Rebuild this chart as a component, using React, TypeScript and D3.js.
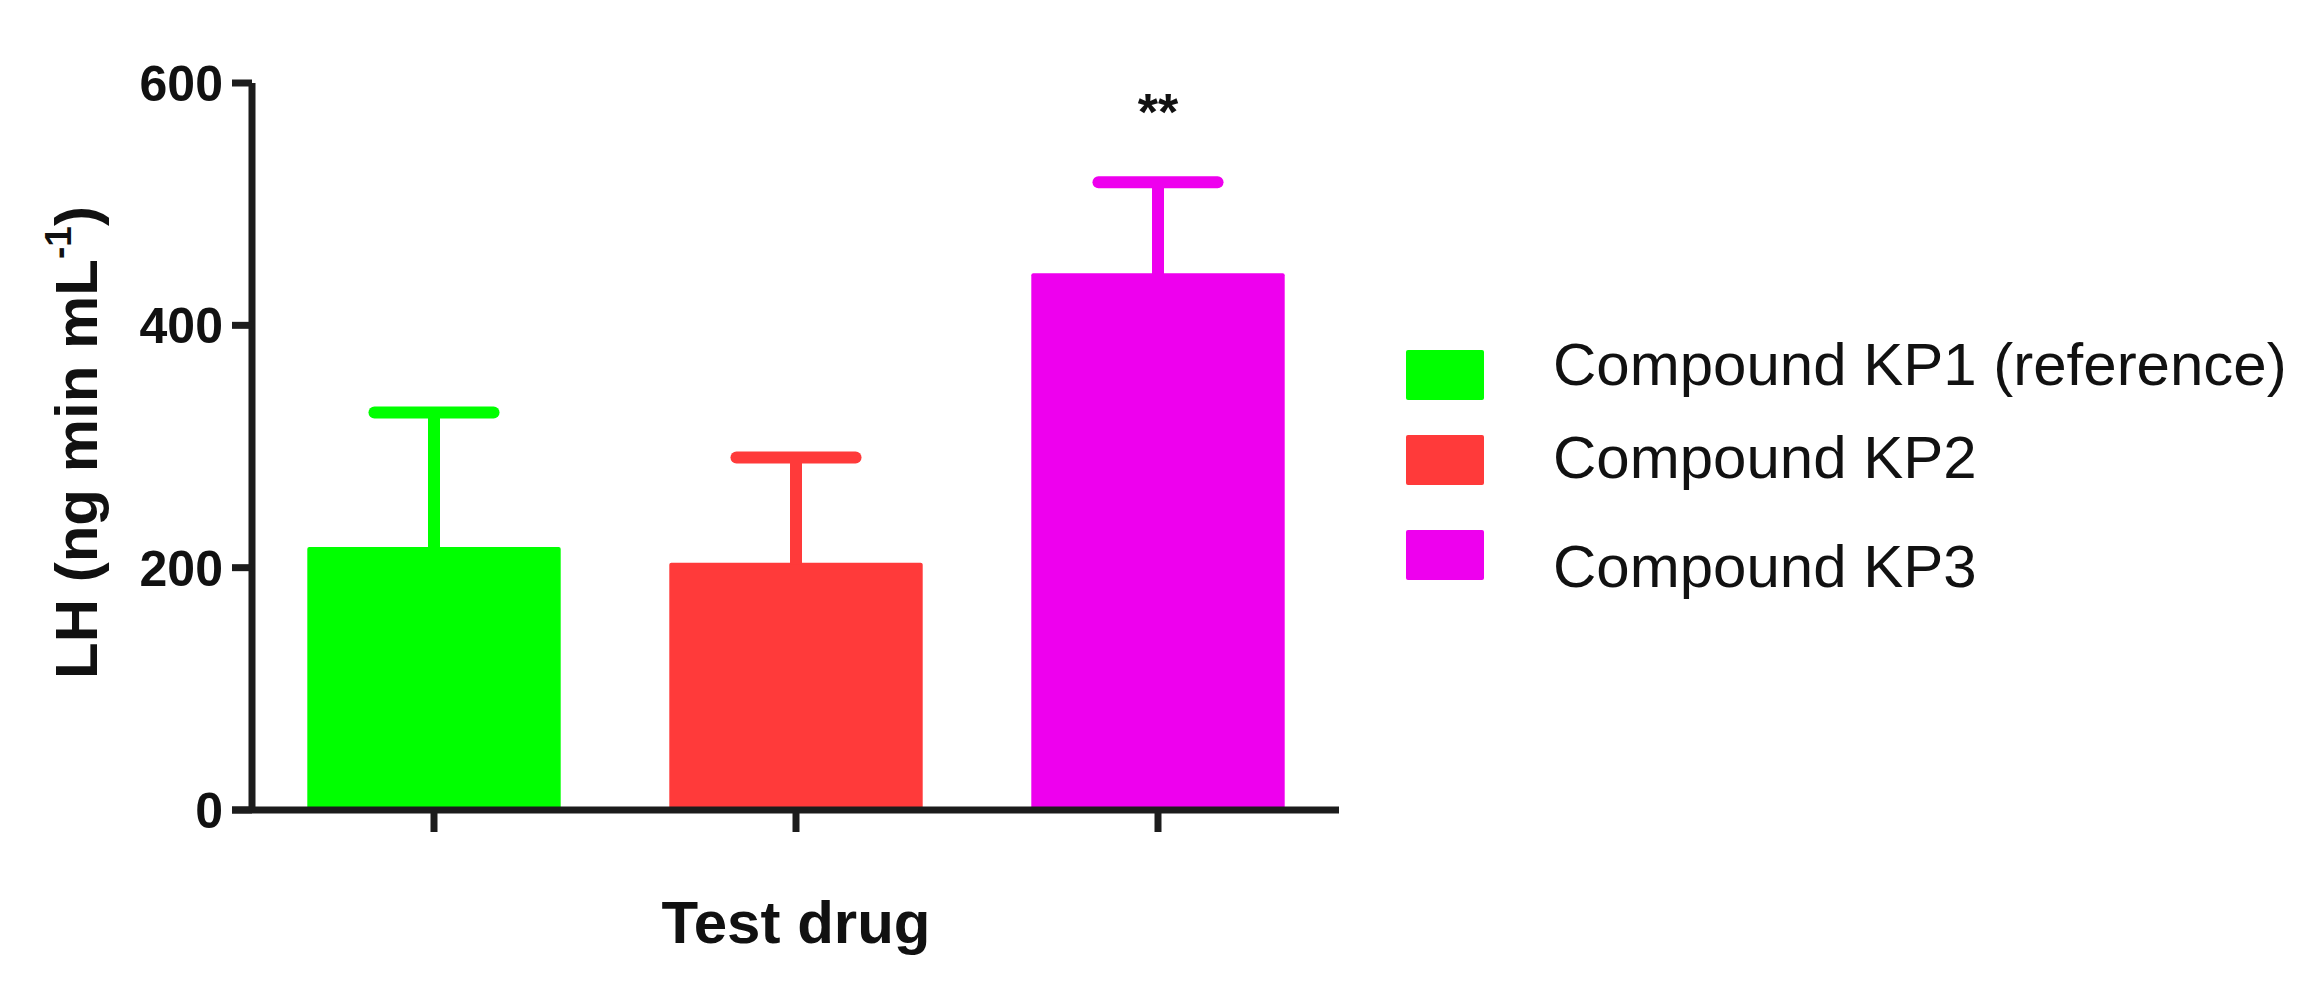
import React from "react";
import * as d3 from "d3";

const categories = ["Compound KP1 (reference)", "Compound KP2", "Compound KP3"];
const means = [217, 204, 443];
const errors = [111, 87, 75];
const colors = ["#00ff00", "#ff3a3a", "#ee00ee"];
const yTicks = [0, 200, 400, 600];
const significance = ["", "", "**"];

const W = 2313;
const H = 1003;
const FONT = "'Liberation Sans', Arial, Helvetica, sans-serif";

export default function App() {
  const y = d3.scaleLinear().domain([0, 600]).range([810, 83]);
  const x = d3
    .scaleBand<string>()
    .domain(categories)
    .range([253, 1339])
    .paddingInner(0.3)
    .paddingOuter(0.15);
  const bw = x.bandwidth();
  const axisX = 252;
  const axisY = y(0);
  const axisColor = "#1c1c1c";
  const legendRectY = [350, 435, 530];
  const legendTextY = [385, 478, 587];

  return (
    <svg
      width={W}
      height={H}
      style={{ position: "absolute", left: 0, top: 0, background: "#fff" }}
      fontFamily={FONT}
    >
      <rect x={0} y={0} width={W} height={H} fill="#fff" />
      {/* bars */}
      {categories.map((c, i) => (
        <rect
          key={c}
          x={x(c)}
          y={y(means[i])}
          width={bw}
          height={y(0) - y(means[i])}
          fill={colors[i]}
          rx={2}
        />
      ))}
      {/* error bars */}
      {categories.map((c, i) => {
        const cx = (x(c) as number) + bw / 2;
        const top = y(means[i] + errors[i]);
        return (
          <g key={"e" + c} stroke={colors[i]} strokeWidth={12}>
            <line x1={cx} x2={cx} y1={y(means[i]) + 2} y2={top} />
            <line
              x1={cx - bw * 0.235}
              x2={cx + bw * 0.235}
              y1={top}
              y2={top}
              strokeLinecap="round"
            />
          </g>
        );
      })}
      {/* significance */}
      {categories.map((c, i) =>
        significance[i] ? (
          <text
            key={"s" + c}
            x={(x(c) as number) + bw / 2}
            y={y(means[i] + errors[i]) - 52}
            textAnchor="middle"
            fontWeight="bold"
            fontSize={52}
            fill="#111"
          >
            {significance[i]}
          </text>
        ) : null
      )}
      {/* y axis */}
      <line x1={axisX} x2={axisX} y1={y(600)} y2={axisY} stroke={axisColor} strokeWidth={7} />
      {yTicks.map((t) => (
        <g key={"yt" + t}>
          <line x1={axisX - 20} x2={axisX} y1={y(t)} y2={y(t)} stroke={axisColor} strokeWidth={7} />
          <text
            x={axisX - 29}
            y={y(t)}
            dy="0.36em"
            textAnchor="end"
            fontWeight="bold"
            fontSize={50}
            fill="#111"
          >
            {t}
          </text>
        </g>
      ))}
      {/* x axis */}
      <line x1={axisX - 20} x2={1339} y1={axisY} y2={axisY} stroke={axisColor} strokeWidth={7} />
      {categories.map((c) => (
        <line
          key={"xt" + c}
          x1={(x(c) as number) + bw / 2}
          x2={(x(c) as number) + bw / 2}
          y1={axisY}
          y2={axisY + 22}
          stroke={axisColor}
          strokeWidth={7}
        />
      ))}
      {/* axis titles */}
      <text
        x={(253 + 1339) / 2}
        y={943}
        textAnchor="middle"
        fontWeight="bold"
        fontSize={60}
        fill="#111"
      >
        Test drug
      </text>
      <text
        transform={`translate(97, ${(y(0) + y(600)) / 2 - 4}) rotate(-90)`}
        textAnchor="middle"
        fontWeight="bold"
        fontSize={60}
        fill="#111"
      >
        LH (ng min mL
        <tspan fontSize={37} dy={-26}>
          -1
        </tspan>
        <tspan dy={26}>)</tspan>
      </text>
      {/* legend */}
      {categories.map((c, i) => (
        <g key={"l" + c}>
          <rect x={1406} y={legendRectY[i]} width={78} height={50} fill={colors[i]} rx={2} />
          <text x={1553} y={legendTextY[i]} fontSize={60} fill="#111">
            {c}
          </text>
        </g>
      ))}
    </svg>
  );
}
